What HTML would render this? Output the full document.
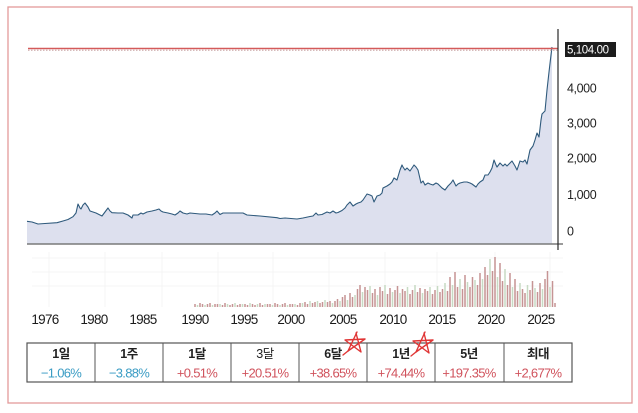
<!DOCTYPE html>
<html><head><meta charset="utf-8"><style>
html,body{margin:0;padding:0;background:#fff;}
svg{display:block;}
text{font-family:"Liberation Sans","Noto Sans CJK KR",sans-serif;}
</style></head><body>
<svg width="638" height="413" viewBox="0 0 638 413" xmlns="http://www.w3.org/2000/svg">
<rect x="0" y="0" width="638" height="413" fill="#fff"/>
<rect x="8" y="7" width="624" height="396" fill="none" stroke="#e39a9a" stroke-width="1.3"/>

<!-- volume gridlines -->
<g stroke="#f4f4f4" stroke-width="1">
<line x1="32" y1="258" x2="563" y2="258"/>
<line x1="32" y1="272" x2="563" y2="272"/>
<line x1="32" y1="286" x2="563" y2="286"/>
<line x1="49" y1="252" x2="49" y2="307"/>
<line x1="105" y1="252" x2="105" y2="307"/>
<line x1="162" y1="252" x2="162" y2="307"/>
<line x1="218" y1="252" x2="218" y2="307"/>
<line x1="273" y1="252" x2="273" y2="307"/>
<line x1="329" y1="252" x2="329" y2="307"/>
<line x1="385" y1="252" x2="385" y2="307"/>
<line x1="437" y1="252" x2="437" y2="307"/>
<line x1="495" y1="252" x2="495" y2="307"/>
<line x1="550" y1="252" x2="550" y2="307"/>
</g>

<!-- area -->
<path fill="#dde0ee" d="M27 244 L27,221.3 32,222 38,224 45,223.5 57,222.7 63,221 68,219.5 73,216.7 76,213 78,204 80,208 81,209 83,205 85,203 88,207 90,211 96,213 102,216 105,212 108,208 110,211 112,212.7 118,213 123,213 128,215 132,218 133,215 138,215 141,213 143,214 147,212 152,211 156,210 159,209 161,211 163,212 168,213 172,214 175,215 178,213 180,211 183,213 187,214 190,213 200,214 206,214 212,215 215,213 217,211 220,214.5 223,213 230,213 243,213 247,215 260,216 277,217.7 280,218.5 285,218 297,219 303,218 310,216.5 313,216 316,213 318,215 322,214.5 327,212 330,213 333,211 336,213 338,212.5 342,210.5 345,208 347,205 350,202 353,206 356,204 358,203 361,202 363,200 365,197 367,194 370,195 372,196 374,202 377,196 380,195 382,193 383,188 387,186 390,184 392,182 394,178 397,180 400,170 402,165 403,167 405,170 407,168 410,171 412,168 414,165 416,167 418,170 421,183 423,181 425,185 428,183 430,184 433,185 436,183 438,184 442,188 445,190 448,186 451,183 453,180 456,186 458,184 460,183 464,182 467,182 470,183 472,184 476,187 478,184 480,182 483,180 485,175 488,175 490,172 492,168 494,160 496,165 497,167 500,163 503,166 505,164 507,166 510,163 512,161 515,166 517,170 520,161 523,162 525,160 527,164 530,150 533,146 535,140 537,133 539,137 541,120 542,114 545,111 547,90 549,72 551,55 552,47 L552 244 Z"/>
<polyline fill="none" stroke="#2f5a7c" stroke-width="1.1" stroke-linejoin="round" points="27,221.3 32,222 38,224 45,223.5 57,222.7 63,221 68,219.5 73,216.7 76,213 78,204 80,208 81,209 83,205 85,203 88,207 90,211 96,213 102,216 105,212 108,208 110,211 112,212.7 118,213 123,213 128,215 132,218 133,215 138,215 141,213 143,214 147,212 152,211 156,210 159,209 161,211 163,212 168,213 172,214 175,215 178,213 180,211 183,213 187,214 190,213 200,214 206,214 212,215 215,213 217,211 220,214.5 223,213 230,213 243,213 247,215 260,216 277,217.7 280,218.5 285,218 297,219 303,218 310,216.5 313,216 316,213 318,215 322,214.5 327,212 330,213 333,211 336,213 338,212.5 342,210.5 345,208 347,205 350,202 353,206 356,204 358,203 361,202 363,200 365,197 367,194 370,195 372,196 374,202 377,196 380,195 382,193 383,188 387,186 390,184 392,182 394,178 397,180 400,170 402,165 403,167 405,170 407,168 410,171 412,168 414,165 416,167 418,170 421,183 423,181 425,185 428,183 430,184 433,185 436,183 438,184 442,188 445,190 448,186 451,183 453,180 456,186 458,184 460,183 464,182 467,182 470,183 472,184 476,187 478,184 480,182 483,180 485,175 488,175 490,172 492,168 494,160 496,165 497,167 500,163 503,166 505,164 507,166 510,163 512,161 515,166 517,170 520,161 523,162 525,160 527,164 530,150 533,146 535,140 537,133 539,137 541,120 542,114 545,111 547,90 549,72 551,55 552,47"/>

<!-- reference line -->
<line x1="28" y1="50.3" x2="558" y2="50.3" stroke="#c9a4a4" stroke-width="1" stroke-dasharray="1.5,1.5"/>
<line x1="28" y1="48.5" x2="558" y2="48.5" stroke="#d45a5a" stroke-width="1.6"/>

<!-- axes -->
<line x1="27" y1="244" x2="563" y2="244" stroke="#7a7a7a" stroke-width="1.5"/>
<line x1="558" y1="29" x2="558" y2="250" stroke="#2a2a2a" stroke-width="1.2"/>

<!-- price label -->
<rect x="565" y="42" width="51" height="15" fill="#1c1c1c"/>
<text x="567" y="53.5" font-size="11.5" fill="#fff" letter-spacing="-0.4">5,104.00</text>
<g font-size="12.5" fill="#222" letter-spacing="-0.4">
<text x="567" y="92.5">4,000</text>
<text x="567" y="127.5">3,000</text>
<text x="567" y="162.5">2,000</text>
<text x="567" y="199">1,000</text>
<text x="567" y="235.5">0</text>
</g>

<!-- volume bars -->
<path fill="none" stroke="#c69494" stroke-width="1.5" d="M195 307v-3M200 307v-4M202.5 307v-3M207.5 307v-3M210 307v-4M215 307v-3M217.5 307v-3M222.5 307v-2M225 307v-4M230 307v-2M232.5 307v-3M237.5 307v-2M240 307v-3M245 307v-3M247.5 307v-2M252.5 307v-3M255 307v-2M260 307v-4M262.5 307v-2M267.5 307v-3M270 307v-3M275 307v-4M277.5 307v-3M282.5 307v-3M285 307v-4M290 307v-3M292.5 307v-3M297.5 307v-2M300 307v-4M305 307v-5M307.5 307v-3M312.5 307v-4M315 307v-5M320 307v-4M322.5 307v-5M327.5 307v-5M330 307v-6M335 307v-6M337.5 307v-8M342.5 307v-10M345 307v-12M350 307v-14M352.5 307v-10M357.5 307v-18M360 307v-22M365 307v-20M367.5 307v-17M372.5 307v-14M375 307v-18M380 307v-20M382.5 307v-16M387.5 307v-13M390 307v-19M395 307v-17M397.5 307v-21M402.5 307v-18M405 307v-16M410 307v-13M412.5 307v-17M417.5 307v-15M420 307v-19M425 307v-18M427.5 307v-16M432.5 307v-13M435 307v-17M440 307v-15M442.5 307v-18M447.5 307v-16M450 307v-30M455 307v-35M457.5 307v-20M462.5 307v-18M465 307v-32M470 307v-20M472.5 307v-30M477.5 307v-22M480 307v-34M485 307v-40M487.5 307v-32M492.5 307v-36M495 307v-50M500 307v-44M502.5 307v-26M507.5 307v-22M510 307v-34M515 307v-28M517.5 307v-16M522.5 307v-18M525 307v-14M530 307v-17M532.5 307v-26M537.5 307v-15M540 307v-24M545 307v-28M547.5 307v-36M552.5 307v-26M555 307v-4"/>
<path fill="none" stroke="#c7dac3" stroke-width="1.5" d="M197.5 307v-2M205 307v-2M212.5 307v-2M220 307v-3M227.5 307v-3M235 307v-4M242.5 307v-3M250 307v-4M257.5 307v-3M265 307v-3M272.5 307v-2M280 307v-2M287.5 307v-2M295 307v-3M302.5 307v-4M310 307v-6M317.5 307v-6M325 307v-7M332.5 307v-4M340 307v-6M347.5 307v-7M355 307v-12M362.5 307v-15M370 307v-21M377.5 307v-12M385 307v-22M392.5 307v-15M400 307v-14M407.5 307v-20M415 307v-22M422.5 307v-14M430 307v-20M437.5 307v-21M445 307v-24M452.5 307v-22M460 307v-28M467.5 307v-25M475 307v-27M482.5 307v-28M490 307v-48M497.5 307v-30M505 307v-38M512.5 307v-20M520 307v-24M527.5 307v-22M535 307v-19M542.5 307v-18M550 307v-20"/>

<!-- year labels -->
<g font-size="13.5" fill="#1a1a1a" text-anchor="middle" letter-spacing="-0.7">
<text x="45" y="324">1976</text>
<text x="94" y="324">1980</text>
<text x="143" y="324">1985</text>
<text x="195" y="324">1990</text>
<text x="244" y="324">1995</text>
<text x="291" y="324">2000</text>
<text x="343" y="324">2005</text>
<text x="393" y="324">2010</text>
<text x="442" y="324">2015</text>
<text x="491" y="324">2020</text>
<text x="541" y="324">2025</text>
</g>

<!-- table -->
<rect x="27" y="343" width="545" height="39" fill="none" stroke="#555" stroke-width="1.2"/>
<g stroke="#555" stroke-width="1">
<line x1="95" y1="343" x2="95" y2="382"/>
<line x1="163" y1="343" x2="163" y2="382"/>
<line x1="231" y1="343" x2="231" y2="382"/>
<line x1="299" y1="343" x2="299" y2="382"/>
<line x1="367" y1="343" x2="367" y2="382"/>
<line x1="435" y1="343" x2="435" y2="382"/>
<line x1="504" y1="343" x2="504" y2="382"/>
</g>
<g font-size="12.5" fill="#222" text-anchor="middle" font-weight="bold" letter-spacing="-0.5">
<text x="61" y="358">1일</text>
<text x="129" y="358">1주</text>
<text x="197" y="358">1달</text>
<text x="265" y="358" font-weight="normal">3달</text>
<text x="333" y="358">6달</text>
<text x="401" y="358">1년</text>
<text x="469" y="358">5년</text>
<text x="538" y="358">최대</text>
</g>
<g font-size="13" text-anchor="middle" letter-spacing="-0.7">
<text x="61" y="377.5" fill="#3a9cc4">−1.06%</text>
<text x="129" y="377.5" fill="#3a9cc4">−3.88%</text>
<text x="197" y="377.5" fill="#d0525c">+0.51%</text>
<text x="265" y="377.5" fill="#d0525c">+20.51%</text>
<text x="333" y="377.5" fill="#d0525c">+38.65%</text>
<text x="401" y="377.5" fill="#d0525c">+74.44%</text>
<text x="469" y="377.5" fill="#d0525c">+197.35%</text>
<text x="538" y="377.5" fill="#d0525c">+2,677%</text>
</g>

<!-- hand-drawn stars -->
<g fill="none" stroke="#e03535" stroke-width="1.4" stroke-linejoin="round" stroke-linecap="round">
<polyline points="356,333 361,352 345,340 365,339 348,351 357,332"/>
<line x1="348" y1="351" x2="343" y2="355"/>
<polyline points="424,333 429,353 413,341 433,340 416,352 425,332"/>
<line x1="416" y1="352" x2="411" y2="356"/>
</g>
</svg>
</body></html>
